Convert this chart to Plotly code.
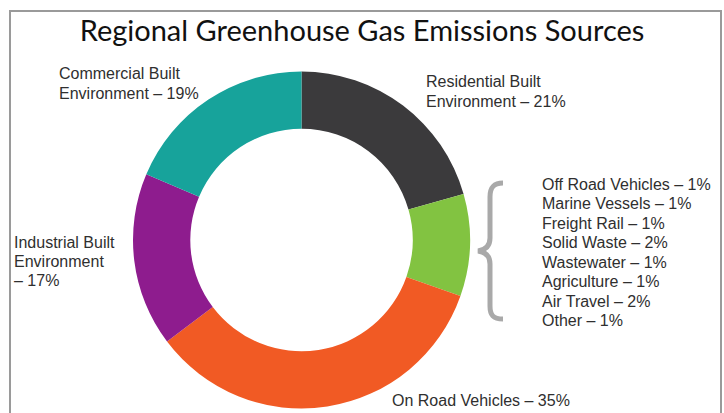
import plotly.graph_objects as go

# Main emission sectors (percent of regional total)
sectors = ["Residential Built Environment", "Other Sources", "On Road Vehicles",
           "Industrial Built Environment", "Commercial Built Environment"]
sector_colors = ["#3b3a3c", "#82c341", "#f15a24", "#8e1c8e", "#17a39b"]

# Smaller sources grouped into the green slice
minor_sources = ["Off Road Vehicles", "Marine Vessels", "Freight Rail", "Solid Waste",
                 "Wastewater", "Agriculture", "Air Travel", "Other"]
minor_values = [1, 1, 1, 2, 1, 1, 2, 1]

sector_values = [21, sum(minor_values), 35, 17, 19]

W, H = 724, 413


def px(x):
    return x / W


def py(y):
    return 1 - y / H


fig = go.Figure()
fig.add_trace(go.Pie(
    labels=sectors,
    values=sector_values,
    hole=0.66,
    sort=False,
    direction="clockwise",
    rotation=0,
    marker=dict(colors=sector_colors, line=dict(width=0)),
    textinfo="none",
    hoverinfo="label+value",
    showlegend=False,
    domain=dict(x=[px(133), px(470)], y=[py(408.5), py(71.5)]),
))

label_font = dict(family="Liberation Sans, Arial, sans-serif", size=16, color="#2f2f2f")


def add_lines(lines, x, y_first, step):
    # one annotation per text line so the line spacing is controlled exactly
    for k, line in enumerate(lines):
        fig.add_annotation(text=line, x=px(x), y=py(y_first + k * step),
                           xref="paper", yref="paper",
                           xanchor="left", yanchor="middle", align="left",
                           showarrow=False, font=label_font)


add_lines(["Commercial Built", "Environment – 19%"], 57, 74, 19.5)
add_lines(["Residential Built", "Environment – 21%"], 424, 82, 19.5)
add_lines(["Industrial Built", "Environment", "– 17%"], 12, 242, 19.3)
add_lines(["On Road Vehicles – 35%"], 390, 400, 19.5)
add_lines([f"{n} – {v}%" for n, v in zip(minor_sources, minor_values)], 540, 184, 19.55)

# Curly brace gathering the minor sources
brace = ("M 503 183 C 493 183 490 188 490 197 L 490 238 "
         "C 490 246 485 250 478 251 C 485 252 490 256 490 264 "
         "L 490 306 C 490 315 493 319 503 319")
pts = brace.split()
conv = []
i = 0
while i < len(pts):
    tok = pts[i]
    if tok.isalpha():
        conv.append(tok)
        i += 1
    else:
        conv.append(f"{px(float(tok)):.5f},{py(float(pts[i + 1])):.5f}")
        i += 2
fig.add_shape(type="path", path=" ".join(conv), xref="paper", yref="paper",
              line=dict(color="#a9a9a9", width=5))

# Frame around the figure
fig.add_shape(type="rect", xref="paper", yref="paper",
              x0=px(10), x1=px(721), y0=py(425), y1=py(11),
              line=dict(color="#9a9a9a", width=2))

fig.update_layout(
    width=W, height=H,
    margin=dict(l=0, r=0, t=0, b=0),
    paper_bgcolor="white",
    plot_bgcolor="white",
    title=dict(text="Regional Greenhouse Gas Emissions Sources",
               x=0.5, xanchor="center", y=py(31), yanchor="middle",
               font=dict(family="Lato, Open Sans, sans-serif", size=29, color="#111111")),
)

fig.write_html("out.html")
